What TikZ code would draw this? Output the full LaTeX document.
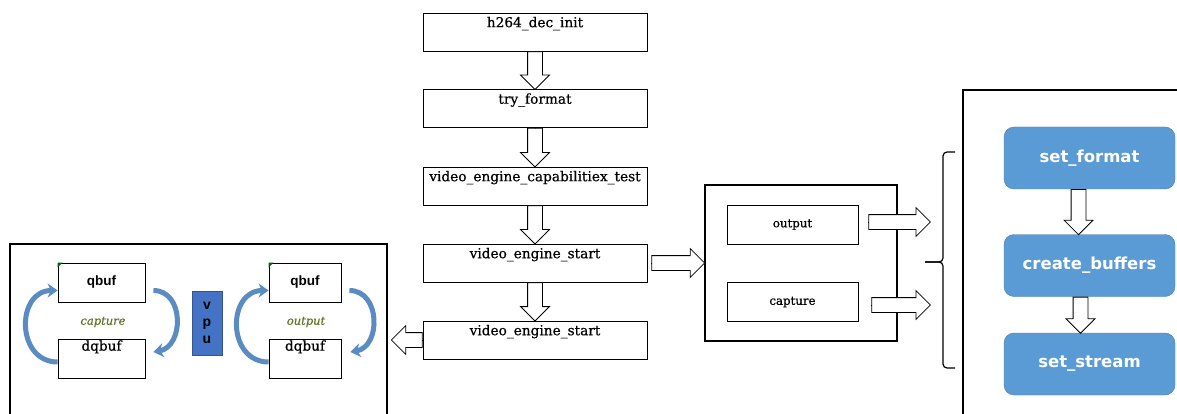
\documentclass[tikz,border=0pt]{standalone}
\usepackage{fontspec}
\setmainfont{DejaVu Serif}[UprightFeatures={FakeBold=0.6},ItalicFeatures={FakeBold=0.6}]
\newfontfamily\arialfont{Liberation Sans}
\newfontfamily\dejasans{DejaVu Sans}
\usepackage{tikz}
\usetikzlibrary{shapes.arrows,arrows.meta,calc}
\definecolor{boxblue}{HTML}{5B9BD5}
\definecolor{vpublue}{HTML}{4472C4}
\definecolor{arcblue}{HTML}{5A8CC2}
\definecolor{labelgreen}{RGB}{95,120,40}

\begin{document}
\begin{tikzpicture}[x=1pt,y=-1pt,
  callbox/.style={draw,line width=0.8pt,minimum width=224,minimum height=38,inner sep=0},
  calltext/.style={anchor=north,inner sep=4pt,font=\fontsize{13.7}{16}\selectfont},
  bigbox/.style={draw,line width=1.5pt,inner sep=0},
  cell/.style={draw,line width=0.8pt,minimum height=39,inner sep=0},
  celltext/.style={anchor=north,inner sep=1pt,font=\fontsize{13.6}{16}\selectfont},
  qtext/.style={font=\arialfont\bfseries\fontsize{13.5}{16}\selectfont},
  looplabel/.style={text=labelgreen,font=\itshape\fontsize{11.5}{14}\selectfont},
  loopy/.style={draw=arcblue,line width=5pt,-{Stealth[length=10pt,width=14pt]}},
  modebox/.style={draw,line width=0.8pt,minimum width=131,minimum height=39,inner sep=0,
    font=\fontsize{11.8}{14}\selectfont},
  bluebox/.style={draw=boxblue!80!black,fill=boxblue,rounded corners=10pt,
    minimum width=171,minimum height=62,text=white,
    font=\dejasans\bfseries\fontsize{16.5}{19}\selectfont},
  hollow/.style={to path={let \p1=(\tikztostart),\p2=(\tikztotarget),
      \n1={veclen(\x2-\x1,\y2-\y1)} in (\tikztostart) -- (\tikztotarget)
      node[pos=0,anchor=tail,sloped,allow upside down,single arrow,draw,fill=white,line width=0.8pt,
        inner sep=0pt,inner ysep=7pt,single arrow head extend=7pt,minimum height=\n1] {}}}]
  \useasboundingbox (0,0) rectangle (1177,414);
  \clip (0,0) rectangle (1177,414);
  \fill[white] (0,0) rectangle (1177,414);

  \node[callbox,label={[calltext]north:h264\_dec\_init}] (init) at (535,32) {};
  \node[callbox,label={[calltext]north:try\_format}] (tryfmt) at (535,108.5) {};
  \node[callbox,label={[calltext]north:video\_engine\_capabilitiex\_test}] (captest) at (535,186) {};
  \node[callbox,label={[calltext]north:video\_engine\_start}] (vstart) at (535,263) {};
  \node[callbox,label={[calltext]north:video\_engine\_start}] (vrun) at (535,340) {};

  \node[bigbox,minimum width=377,minimum height=186] (bufbox) at (198.5,337) {};
  \node[cell,minimum width=87,qtext] (q1) at (101.5,282.5) {qbuf};
  \node[cell,minimum width=87,label={[celltext]north:dqbuf}] (dq1) at (101.5,359) {};
  \node[cell,minimum width=72,qtext] (q2) at (305,282.5) {qbuf};
  \node[cell,minimum width=72,label={[celltext]north:dqbuf}] (dq2) at (305,359) {};
  \node[looplabel] (caplbl) at (103,322) {capture};
  \node[looplabel] (outlbl) at (306,322) {output};
  \node[draw=vpublue!75!black,fill=vpublue,minimum width=30,minimum height=64,inner sep=0,
    align=center,font=\arialfont\bfseries\fontsize{14}{17}\selectfont] (vpu) at (207,323) {v\\p\\u};
  \fill[green!40!black] (q1.north west) -- ++(5pt,0pt) -- ++(-5pt,-5pt) -- cycle;
  \fill[green!40!black] (q2.north west) -- ++(5pt,0pt) -- ++(-5pt,-5pt) -- cycle;

  \draw[loopy] ([yshift=-3pt]dq1.west) to[out=180,in=180,looseness=1.5] ([yshift=-8pt]q1.west);
  \draw[loopy] ([shift={(8pt,-8pt)}]q1.east) to[out=0,in=10,looseness=1.3] ([shift={(8pt,7pt)}]dq1.east);
  \draw[loopy] ([yshift=-3pt]dq2.west) to[out=180,in=180,looseness=1.5] ([yshift=-8pt]q2.west);
  \draw[loopy] ([shift={(8pt,-8pt)}]q2.east) to[out=0,in=10,looseness=1.3] ([shift={(9pt,7pt)}]dq2.east);

  \node[bigbox,minimum width=192,minimum height=156] (engine) at (801,263) {};
  \node[modebox] (outq) at (792.5,224.5) {output};
  \node[modebox] (capq) at (792.5,302) {capture};
  \coordinate (outend) at (930,222);
  \coordinate (capend) at (930,305);

  \coordinate (brtop) at (955,152);
  \coordinate (brbot) at (955,368);
  \draw[line width=1.2pt,rounded corners=4pt] (brtop) -- (943,152) -- (943,262) -- (925,262);
  \draw[line width=1.2pt,rounded corners=4pt] (brbot) -- (943,368) -- (943,262) -- (925,262);

  \node[bigbox,minimum width=230,minimum height=340] (vbox) at (1078,260) {};
  \node[bluebox] (setfmt) at (1089.5,158) {set\_format};
  \node[bluebox] (mkbuf) at (1089.5,265.5) {create\_buffers};
  \node[bluebox] (setstr) at (1089.5,364) {set\_stream};

  \path (init.south) edge[hollow] (tryfmt.north)
    (tryfmt.south) edge[hollow] (captest.north)
    (captest.south) edge[hollow] (vstart.north)
    (vstart.south) edge[hollow] (vrun.north)
    ([xshift=4pt]vstart.east) edge[hollow] (engine.west)
    (vrun.west) edge[hollow] ([xshift=4pt]vrun.west -| bufbox.east)
    ([shift={(10pt,2.5pt)}]outq.east) edge[hollow] (outend)
    ([shift={(13pt,-3pt)}]capq.east) edge[hollow] (capend)
    ([xshift=-11pt]setfmt.south) edge[hollow] ([xshift=-11pt]mkbuf.north)
    ([xshift=-9pt]mkbuf.south) edge[hollow] ([xshift=-9pt]setstr.north);
\end{tikzpicture}
\end{document}
